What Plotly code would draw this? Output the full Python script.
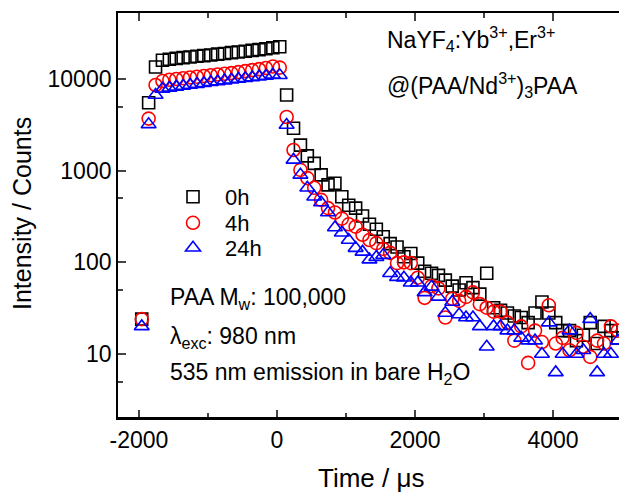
import plotly.graph_objects as go

# time grid (µs)
time_us = [-1960, -1860, -1760, -1660, -1560, -1460, -1360, -1260, -1160, -1060,
           -960, -860, -760, -660, -560, -460, -360, -260, -160, -60,
           40, 140, 240, 340, 440, 540, 640, 740, 840, 940,
           1040, 1140, 1240, 1340, 1440, 1540, 1640, 1740, 1840, 1940,
           2040, 2140, 2240, 2340, 2440, 2540, 2640, 2740, 2840, 2940,
           3040, 3140, 3240, 3340, 3440, 3540, 3640, 3740, 3840, 3940,
           4040, 4140, 4240, 4340, 4440, 4540, 4640, 4740, 4840, 4940]

counts_0h = [24, 5500, 13500, 16000, 16400, 16800, 17100, 17400, 17700, 18000,
             18300, 18700, 19000, 19400, 19700, 20100, 20500, 20900, 21400, 21900,
             22500, 6700, 2900, 1900, 1450, 1200, 900, 700, 730, 520,
             420, 390, 320, 260, 230, 190, 160, 147, 115, 125,
             98, 80, 76, 72, 64, 55, 50, 60, 53, 45,
             76, 32, 30, 28, 26, 25, 22, 28, 37, 28,
             22, 18, 18, 14, 16, 22, 13, 20, 18, 15]

counts_4h = [24, 3700, 8600, 9500, 9800, 10000, 10200, 10400, 10600, 10800,
             11000, 11200, 11400, 11600, 11900, 12200, 12500, 12800, 13200, 13700,
             13300, 3850, 1680, 1020, 830, 650, 480, 390, 350, 300,
             260, 245, 200, 175, 162, 140, 127, 98, 100, 98,
             68, 41, 55, 52, 25, 40, 38, 42, 47, 35,
             32, 29, 29, 22, 14, 20, 8, 18, 13.5, 34,
             13, 15, 11, 17, 12, 9.3, 14, 13, 20, 18]

counts_24h = [20, 3200, 6700, 7800, 8000, 8200, 8400, 8600, 8800, 9000,
              9200, 9400, 9600, 9800, 10000, 10200, 10400, 10600, 10800, 11100,
              11000, 3150, 1310, 900, 650, 520, 450, 350, 240, 210,
              175, 143, 130, 107, 114, 120, 76, 69, 68, 60,
              60, 47, 54, 42, 28, 37, 27, 25, 25, 20,
              12, 20, 20, 18, 18, 15, 14, 14, 10, 22,
              6.3, 10, 18, 10, 11, 24, 6.3, 10, 10, 14]

series_names = ["0h", "4h", "24h"]
series_colors = ["#000000", "#ff0000", "#0000ff"]
series_symbols = ["square-open", "circle-open", "triangle-up-open"]
series_sizes = [12, 13, 13]

x_ticks = [-2000, 0, 2000, 4000]
x_ticktext = ["-2000", "0", "2000", "4000"]
y_ticks = [10, 100, 1000, 10000]

FONT = "Liberation Sans, Arial, sans-serif"

L, R, T, B = 118, 0, 13, 78
W, H = 619, 496
pw = W - L - R
ph = H - T - B

def px(xp):
    return (xp - L) / pw

def py(yp):
    return (H - B - yp) / ph

legend_ids = ["legend", "legend2", "legend3"]
legend_rows = [197, 223, 248]

fig = go.Figure()
for name, vals, col, sym, sz, lid in zip(series_names, [counts_0h, counts_4h, counts_24h],
                                          series_colors, series_symbols, series_sizes,
                                          legend_ids):
    fig.add_trace(go.Scatter(
        x=time_us, y=vals, mode="markers", name=name, legend=lid,
        marker=dict(symbol=sym, size=sz, color=col, line=dict(color=col, width=1.6)),
    ))

legend_common = dict(xanchor="left", yanchor="middle", bgcolor="rgba(0,0,0,0)",
                     font=dict(size=22, family=FONT, color="black"), itemwidth=54,
                     borderwidth=0)
legends = {}
for lid, row in zip(legend_ids, legend_rows):
    legends[lid] = dict(x=px(161), y=py(row), **legend_common)

fig.update_layout(
    width=W, height=H,
    margin=dict(l=L, r=R, t=T, b=B, pad=0, autoexpand=False),
    paper_bgcolor="white", plot_bgcolor="white",
    font=dict(family=FONT, size=22, color="black"),
    showlegend=True,
    **legends,
    xaxis=dict(range=[-2304, 4957], tickvals=x_ticks, ticktext=x_ticktext,
               ticks="inside", ticklen=8, automargin=False,
               tickwidth=1.5, showline=True, linecolor="black", linewidth=1.8,
               mirror="ticks", showgrid=False, zeroline=False,
               tickfont=dict(size=23),
               minor=dict(tickvals=[-1000, 1000, 3000], ticks="inside", ticklen=5,
                          tickwidth=1.5, showgrid=False)),
    yaxis=dict(type="log", range=[0.302, 4.72], tickvals=y_ticks,
               ticktext=[str(v) for v in y_ticks], automargin=False,
               ticks="inside", ticklen=8, tickwidth=1.5, showline=True,
               linecolor="black", linewidth=1.8, showgrid=False, zeroline=False,
               tickfont=dict(size=23),
               minor=dict(tickvals=[5, 50, 500, 5000], ticks="inside", ticklen=5,
                          tickwidth=1.5, showgrid=False)),
    yaxis2=dict(type="log", range=[0.302, 4.72], overlaying="y", side="right",
                anchor="x", tickvals=y_ticks, showticklabels=False,
                ticks="inside", ticklen=5, tickwidth=1.5, tickcolor="black",
                showline=False, showgrid=False, zeroline=False, automargin=False,
                minor=dict(tickvals=[5, 50, 500, 5000], ticks="inside", ticklen=2,
                           tickwidth=1.5, showgrid=False)),
)

# bottom frame line
fig.add_shape(type="line", xref="paper", yref="paper", x0=0, x1=1, y0=0, y1=0,
              line=dict(color="black", width=2))

# axis titles
fig.add_annotation(text="Time / μs", xref="paper", yref="paper",
                   x=px(371), y=py(478), xanchor="center", yanchor="middle",
                   showarrow=False, font=dict(size=26, family=FONT, color="black"))
fig.add_annotation(text="Intensity / Counts", xref="paper", yref="paper",
                   x=px(22), y=py(214), xanchor="center", yanchor="middle",
                   textangle=-90, showarrow=False,
                   font=dict(size=25, family=FONT, color="black"))

ann = [
    ("NaYF<sub>4</sub>:Yb<sup>3+</sup>,Er<sup>3+</sup>", 385, 39),
    ("@(PAA/Nd<sup>3+</sup>)<sub>3</sub>PAA", 385, 85),
    ("PAA M<sub>w</sub>: 100,000", 168, 298),
    ("λ<sub>exc</sub>: 980 nm", 168, 337),
    ("535 nm emission in bare H<sub>2</sub>O", 168, 373),
]
for text, xp, yp in ann:
    fig.add_annotation(text=text, xref="paper", yref="paper", x=px(xp), y=py(yp),
                       xanchor="left", yanchor="middle", showarrow=False,
                       font=dict(size=23, family=FONT, color="black"))

fig.write_html("out.html", config={"displayModeBar": False},
               post_script="document.body.style.margin='0';document.body.style.overflow='hidden';")
